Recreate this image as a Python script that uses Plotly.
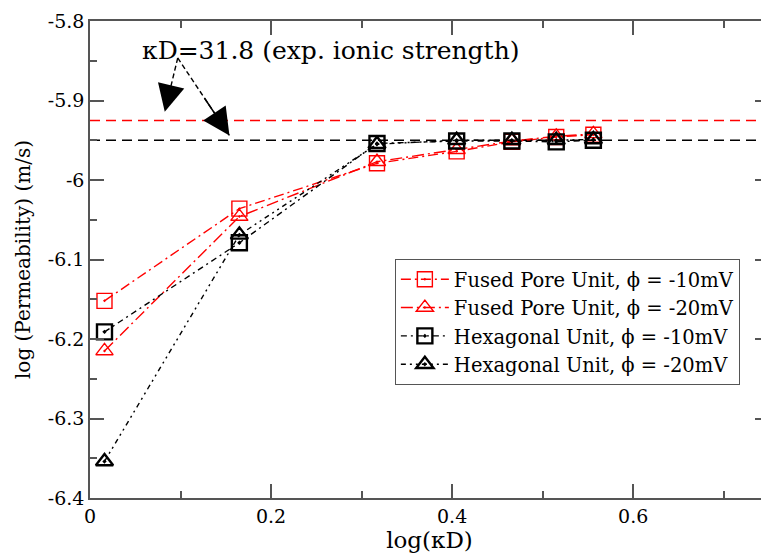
import plotly.graph_objects as go

# Data
log_kd = [0.016, 0.165, 0.317, 0.405, 0.466, 0.515, 0.556]
fused_10 = [-6.152, -6.036, -5.979, -5.964, -5.952, -5.946, -5.943]
fused_20 = [-6.215, -6.046, -5.977, -5.962, -5.951, -5.945, -5.942]
hex_10 = [-6.191, -6.079, -5.954, -5.951, -5.951, -5.952, -5.950]
hex_20 = [-6.354, -6.069, -5.955, -5.950, -5.950, -5.950, -5.949]
series_names = ["Fused Pore Unit, \u03d5 = -10mV", "Fused Pore Unit, \u03d5 = -20mV",
                "Hexagonal Unit, \u03d5 = -10mV", "Hexagonal Unit, \u03d5 = -20mV"]
exp_red = -5.925
exp_black = -5.95
annot_text = "\u03baD=31.8 (exp. ionic strength)"

FONT = "DejaVu Serif"
RED = "#ff0000"
BLK = "#000000"

fig = go.Figure()
styles = [
    (fused_10, RED, "square-open-dot", 1.4, "10px,4px,2px,4px"),
    (fused_20, RED, "triangle-up-open-dot", 1.4, "12px,4px,2px,4px"),
    (hex_10, BLK, "square-open-dot", 2.4, "6px,4px,2px,4px"),
    (hex_20, BLK, "triangle-up-open-dot", 2.4, "5px,4px,2px,4px,2px,4px"),
]
for (ys, col, sym, mw, dash), name in zip(styles, series_names):
    fig.add_trace(go.Scatter(
        x=log_kd, y=ys, name=name, mode="lines+markers",
        line=dict(color=col, width=1.4, dash=dash),
        marker=dict(symbol=sym, size=15, color=col, line=dict(color=col, width=mw)),
    ))

for yv, col in [(exp_red, RED), (exp_black, BLK)]:
    fig.add_shape(type="line", xref="paper", x0=0, x1=1, yref="y", y0=yv, y1=yv,
                  line=dict(color=col, width=1.5, dash="10px,6px"), layer="below")

# annotation text
fig.add_annotation(x=0.055, y=-5.8365, xref="x", yref="y", text=annot_text,
                   showarrow=False, xanchor="left", yanchor="middle",
                   font=dict(family=FONT, size=25, color="black"))
# dashed arrow shafts
start = (0.0969, -5.8465)
tips = [(0.0826, -5.914), (0.154, -5.944)]
for tx, ty in tips:
    fig.add_shape(type="line", xref="x", yref="y", x0=start[0], y0=start[1], x1=tx, y1=ty,
                  line=dict(color="black", width=1.4, dash="5px,3px"))
    dx = tx - start[0]
    dy = ty - start[1]
    fig.add_annotation(x=tx, y=ty, xref="x", yref="y", ax=start[0] + dx * 0.5,
                       ay=start[1] + dy * 0.5, axref="x", ayref="y", text="",
                       showarrow=True, arrowhead=2, arrowsize=3.6, arrowwidth=1.5,
                       arrowcolor="black")

axis_common = dict(
    showline=True, linecolor="#555555", linewidth=1.5, mirror="ticks",
    ticks="inside", tickcolor="#555555", tickwidth=1.5, ticklen=14,
    showgrid=False, zeroline=False,
    tickfont=dict(family=FONT, size=19, color="black"),
)
fig.update_xaxes(range=[0, 0.75], dtick=0.2, tick0=0,
                 minor=dict(dtick=0.1, ticklen=7, ticks="inside", tickcolor="#555555", tickwidth=1.5),
                 title=dict(text="log(\u03baD)", font=dict(family=FONT, size=23, color="black"), standoff=3),
                 **axis_common)
fig.update_yaxes(range=[-6.4, -5.8], dtick=0.1, tick0=-6.4,
                 minor=dict(dtick=0.05, ticklen=7, ticks="inside", tickcolor="#555555", tickwidth=1.5),
                 tickvals=[-6.4, -6.3, -6.2, -6.1, -6.0, -5.9, -5.8],
                 ticktext=["-6.4", "-6.3", "-6.2", "-6.1", "-6", "-5.9", "-5.8"],
                 title=dict(text="log (Permeability) (m/s)", font=dict(family=FONT, size=20, color="black"), standoff=12),
                 **axis_common)

fig.update_layout(
    width=772, height=556,
    margin=dict(l=90, r=1, t=21, b=58),
    plot_bgcolor="white", paper_bgcolor="white",
    font=dict(family=FONT, color="black"),
    showlegend=True,
    legend=dict(x=0.449, y=0.501, xanchor="left", yanchor="top",
                bgcolor="white", bordercolor="#555555", borderwidth=1,
                font=dict(family=FONT, size=19.5, color="black"),
                itemwidth=48, tracegroupgap=0),
)

fig.write_html("out.html",
               post_script="document.documentElement.style.overflow='hidden';document.body.style.overflow='hidden';document.body.style.margin='0';")
